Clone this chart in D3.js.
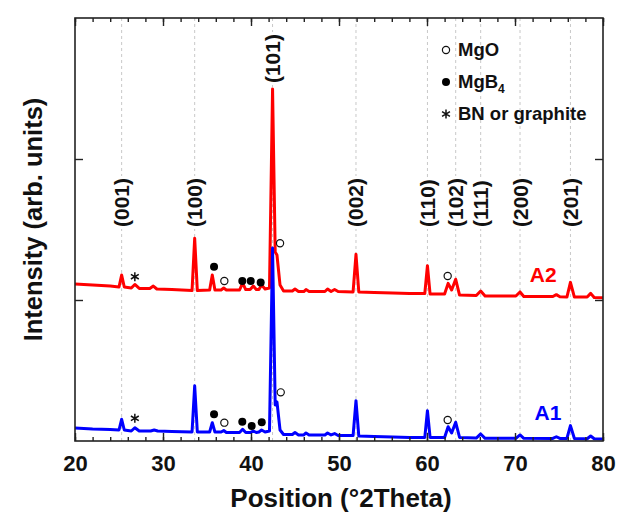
<!DOCTYPE html>
<html><head><meta charset="utf-8">
<script src="https://cdn.jsdelivr.net/npm/d3@7"></script>
<style>
html,body{margin:0;padding:0;background:#fff;}
svg{display:block;font-family:"Liberation Sans",Arial,sans-serif;font-weight:bold;}
</style></head><body>
<svg id="chart" width="618" height="519"></svg>
<script>
// ---- data (2Theta in degrees, intensity in arb. units) ----
const xTicks = [20, 30, 40, 50, 60, 70, 80];
const yTicks = [1000, 2000];

const hklLabels    = ["(001)", "(100)", "(101)", "(002)", "(110)", "(102)", "(111)", "(200)", "(201)"];
const hklPositions = [25.3, 33.6, 42.45, 51.93, 60.05, 63.26, 66.1, 70.57, 76.3];

const a1 = [[20,92],[22,85],[24,82],[25.0,78],[25.3,154],[25.6,78],[26.4,71],[26.8,94],[27.3,71],
  [28.6,71],[29.0,78],[29.4,71],[31,67],[33.3,64],[33.6,392],[33.9,64],[35.3,64],[35.6,130],[35.9,64],
  [36.6,64],[36.9,74],[37.2,60],[38.7,60],[39.05,83],[39.4,60],[39.9,60],[40.26,71],[40.6,60],[40.9,64],
  [41.2,78],[41.6,64],[42.1,71],[42.45,1369],[42.75,255],[42.95,277],[43.3,78],[43.7,46],[44.7,46],
  [45.0,60],[45.4,43],[46.0,43],[46.25,57],[46.6,43],[48.4,43],[48.7,57],[49.1,43],[49.5,53],[49.9,39],
  [51.6,39],[51.93,286],[52.25,35],[54,32],[56.1,28],[58,25],[59.75,25],[60.05,215],[60.35,25],[62.0,25],
  [62.4,101],[62.8,57],[63.26,133],[63.7,25],[65.6,21],[66.1,50],[66.6,19],[70.1,19],[70.57,43],[71.0,19],
  [74.3,18],[74.7,30],[75.1,18],[75.9,18],[76.3,109],[76.75,18],[78.2,16],[78.6,35],[79.0,16],[80,14]];

const a2 = [[20,1113],[22,1106],[24,1099],[25.0,1092],[25.3,1177],[25.6,1092],[26.4,1085],[26.8,1110],[27.3,1082],
  [28.5,1082],[28.9,1099],[29.3,1078],[31,1074],[33.3,1067],[33.6,1438],[33.9,1067],[35.3,1071],[35.6,1177],[35.9,1071],
  [36.6,1071],[36.9,1085],[37.2,1071],[38.7,1071],[39.05,1120],[39.4,1074],[39.9,1074],[40.26,1099],[40.6,1074],[40.9,1074],
  [41.2,1106],[41.6,1078],[42.1,1085],[42.45,2496],[42.75,1340],[42.95,1319],[43.3,1106],[43.7,1064],[44.7,1064],
  [45.0,1078],[45.4,1060],[46.0,1060],[46.25,1074],[46.6,1060],[48.4,1060],[48.7,1078],[49.1,1060],[49.5,1074],[49.9,1060],
  [51.6,1057],[51.93,1324],[52.25,1057],[54,1053],[56.1,1050],[58,1046],[59.75,1046],[60.05,1243],[60.35,1042],[62.0,1042],
  [62.4,1118],[62.8,1071],[63.26,1147],[63.7,1035],[65.6,1032],[66.1,1064],[66.6,1028],[70.1,1028],[70.57,1057],[71.0,1025],
  [74.3,1025],[74.7,1038],[75.1,1023],[75.9,1021],[76.3,1125],[76.75,1021],[78.2,1021],[78.6,1047],[79.0,1018],[80,1016]];

// phase markers: [2Theta, intensity, phase]
const a1Markers = [[26.8,161,"BN"],[35.8,189,"MgB4"],[36.97,130,"MgO"],[39.01,137,"MgB4"],[40.08,106,"MgB4"],
  [41.22,133,"MgB4"],[43.38,345,"MgO"],[62.35,149,"MgO"]];
const a2Markers = [[26.8,1165,"BN"],[35.8,1236,"MgB4"],[36.97,1135,"MgO"],[39.01,1135,"MgB4"],[39.97,1135,"MgB4"],
  [41.1,1125,"MgB4"],[43.3,1402,"MgO"],[62.35,1170,"MgO"]];

const seriesNames  = ["A2", "A1"];
const seriesColors = ["#ff0000", "#0000ff"];
const seriesLabelAt = [[73.2,1128],[73.75,149]];

const legendPhases = ["MgO", "MgB4", "BN"];
const legendTexts  = ["MgO", "MgB", "BN or graphite"];

// ---- layout ----
const W = 618, H = 519;
const m = {top: 18, right: 15, bottom: 78, left: 75};
const svg = d3.select("#chart");
svg.append("rect").attr("width", W).attr("height", H).attr("fill", "#fff");

const x = d3.scaleLinear().domain([20, 80]).range([m.left, W - m.right]);
const y = d3.scaleLinear().domain([0, 3000]).range([H - m.bottom, m.top]);
const X0 = x.range()[0], X1 = x.range()[1], Y0 = y.range()[0], Y1 = y.range()[1];

// gridlines at hkl positions
svg.append("g").selectAll("line").data(hklPositions).join("line")
  .attr("x1", d => x(d)).attr("x2", d => x(d)).attr("y1", Y1).attr("y2", Y0)
  .attr("stroke", "#c8c8c8").attr("stroke-width", 1).attr("stroke-dasharray", "3,3");

// hkl labels
const peakTop = d3.max(a2, d => d[1]);
const hg = svg.append("g");
hklLabels.forEach((lab, i) => {
  const bottom = lab === "(101)" ? y(peakTop) - 6 : 227;
  const g = hg.append("g").attr("transform", `translate(${x(hklPositions[i]) + 7.5},${bottom}) rotate(-90)`);
  const bg = g.append("rect").attr("fill", "#fff");
  const t = g.append("text").attr("x", 0).attr("y", 0).attr("font-size", 21).attr("fill", "#111").text(lab);
  const bb = t.node().getBBox();
  bg.attr("x", bb.x - 2).attr("y", bb.y + 2).attr("width", bb.width + 4).attr("height", bb.height - 4);
});

// curves
const line = d3.line().x(d => x(d[0])).y(d => y(d[1]));
[a2, a1].forEach((s, i) => {
  svg.append("path").datum(s).attr("d", line).attr("fill", "none")
    .attr("stroke", seriesColors[i]).attr("stroke-width", 3).attr("stroke-linejoin", "round");
});

// markers
const star = d3.symbol().type(d3.symbolAsterisk).size(58);
function drawMarker(g, px, py, phase) {
  if (phase === "MgO") {
    g.append("circle").attr("cx", px).attr("cy", py).attr("r", 3.6)
      .attr("fill", "#fff").attr("stroke", "#111").attr("stroke-width", 1.2);
  } else if (phase === "MgB4") {
    g.append("circle").attr("cx", px).attr("cy", py).attr("r", 4).attr("fill", "#000");
  } else {
    g.append("path").attr("d", star()).attr("transform", `translate(${px},${py})`)
      .attr("fill", "none").attr("stroke", "#111").attr("stroke-width", 1.5);
  }
}
const mg = svg.append("g");
[a1Markers, a2Markers].forEach(ms => ms.forEach(d => drawMarker(mg, x(d[0]), y(d[1]), d[2])));

// series labels
seriesNames.forEach((n, i) => {
  svg.append("text").attr("x", x(seriesLabelAt[i][0])).attr("y", y(seriesLabelAt[i][1]))
    .attr("text-anchor", "middle").attr("font-size", 21).attr("fill", seriesColors[i]).text(n);
});

// axes (inward ticks)
const minorX = d3.range(20, 80.1, 2);
function styleAxis(g) { g.select(".domain").remove(); g.selectAll("line").attr("stroke", "#222").attr("stroke-width", 1.4); }
svg.append("g").attr("transform", `translate(0,${Y0})`)
  .call(d3.axisBottom(x).tickValues(minorX).tickSize(-4).tickFormat("")).call(styleAxis);
svg.append("g").attr("transform", `translate(0,${Y1})`)
  .call(d3.axisTop(x).tickValues(minorX).tickSize(-4).tickFormat("")).call(styleAxis);
const xb = svg.append("g").attr("transform", `translate(0,${Y0})`)
  .call(d3.axisBottom(x).tickValues(xTicks).tickSize(-8).tickPadding(14).tickFormat(d3.format("d"))).call(styleAxis);
xb.selectAll("text").attr("font-size", 22).attr("fill", "#111")
  .attr("font-family", "'Liberation Sans',Arial,sans-serif").attr("font-weight", "bold");
svg.append("g").attr("transform", `translate(0,${Y1})`)
  .call(d3.axisTop(x).tickValues(xTicks).tickSize(-8).tickFormat("")).call(styleAxis);
svg.append("g").attr("transform", `translate(${X0},0)`)
  .call(d3.axisLeft(y).tickValues(yTicks).tickSize(-8).tickFormat("")).call(styleAxis);
svg.append("g").attr("transform", `translate(${X1},0)`)
  .call(d3.axisRight(y).tickValues(yTicks).tickSize(-8).tickFormat("")).call(styleAxis);

// frame
svg.append("rect").attr("x", X0).attr("y", Y1).attr("width", X1 - X0).attr("height", Y0 - Y1)
  .attr("fill", "none").attr("stroke", "#222").attr("stroke-width", 1.6);

// axis titles
svg.append("text").attr("x", (X0 + X1) / 2 + 2).attr("y", 507).attr("text-anchor", "middle")
  .attr("font-size", 26).attr("fill", "#111").text("Position (°2Theta)");
svg.append("text").attr("transform", `translate(42,${(Y0 + Y1) / 2 - 10}) rotate(-90)`)
  .attr("text-anchor", "middle").attr("font-size", 25.5).attr("fill", "#111").text("Intensity (arb. units)");

// legend
const lg = svg.append("g");
legendPhases.forEach((p, i) => {
  const cy = 50 + i * 32;
  drawMarker(lg, 446, cy, p);
  const t = lg.append("text").attr("x", 458).attr("y", cy + 6).attr("font-size", 18.5).attr("fill", "#111").text(legendTexts[i]);
  if (p === "MgB4") t.append("tspan").attr("font-size", 12).attr("dy", 5).text("4");
});
</script>
</body></html>
